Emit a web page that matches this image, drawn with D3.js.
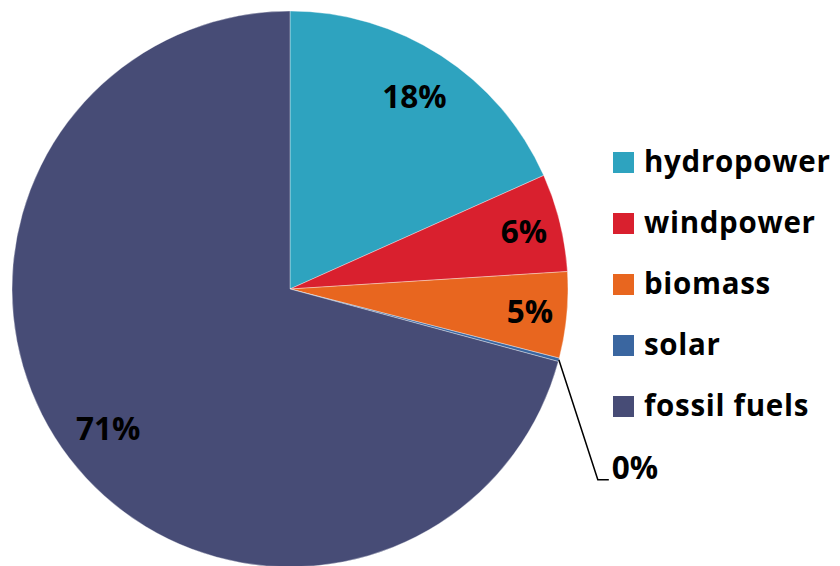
<!DOCTYPE html>
<html>
<head>
<meta charset="utf-8">
<script src="https://cdn.jsdelivr.net/npm/d3@7"></script>
<style>
  html, body { margin: 0; padding: 0; background: #fff; }
  svg { display: block; }
  text { font-family: "Open Sans", Lato, sans-serif; font-weight: bold; fill: #000; }
</style>
</head>
<body>
<svg id="chart" width="840" height="566"></svg>
<script>
const categories = ["hydropower", "windpower", "biomass", "solar", "fossil fuels"];
const values = [18.3, 5.7, 5.0, 0.2, 70.8];
const colors = ["#2EA3BF", "#D9202E", "#E8661F", "#3A66A0", "#474C76"];

const W = 840, H = 566;
const cx = 290, cy = 289, R = 278;
const svg = d3.select("#chart");

const data = categories.map((c, i) => ({ name: c, value: values[i], color: colors[i] }));
const pie = d3.pie().value(d => d.value).sort(null);
const arcs = pie(data);
const arc = d3.arc().innerRadius(0).outerRadius(R);
// narrow slices get their label a little closer to the rim
const labelRadius = a => (a.endAngle - a.startAngle > 0.5 ? 229 : 241);

const g = svg.append("g").attr("transform", `translate(${cx},${cy})`);
g.selectAll("path.slice").data(arcs).enter().append("path")
  .attr("class", "slice")
  .attr("d", arc)
  .attr("fill", d => d.data.color)
  .attr("stroke", "#fff")
  .attr("stroke-width", 0.6)
  .attr("stroke-opacity", 0.6);

const fmt = v => Math.round(v) + "%";
const labelSize = 31.5;

arcs.forEach(a => {
  if (a.endAngle - a.startAngle < 0.05) {
    const mid = (a.startAngle + a.endAngle) / 2;
    const p0 = [R * Math.sin(mid), -R * Math.cos(mid)];
    const p1 = [p0[0] + 39, p0[1] + 120];
    const p2 = [p1[0] + 11, p1[1]];
    g.append("path")
      .attr("d", d3.line()([p0, p1, p2]))
      .attr("fill", "none").attr("stroke", "#000").attr("stroke-width", 1.5);
    g.append("text")
      .attr("x", p2[0] + 3).attr("y", p2[1] - 1)
      .attr("font-size", labelSize)
      .text(fmt(a.data.value));
  } else {
    const lr = labelRadius(a);
    const c = d3.arc().innerRadius(lr).outerRadius(lr).centroid(a);
    g.append("text")
      .attr("x", c[0]).attr("y", c[1])
      .attr("text-anchor", "middle")
      .attr("dy", "0.36em")
      .attr("font-size", labelSize)
      .text(fmt(a.data.value));
  }
});

// legend
const lg = svg.append("g").attr("transform", "translate(613,152)");
const rowH = 61;
const items = lg.selectAll("g").data(data).enter().append("g")
  .attr("transform", (d, i) => `translate(0,${i * rowH})`);
items.append("rect").attr("width", 21).attr("height", 21).attr("fill", d => d.color);
items.append("text").attr("x", 31).attr("y", 20).attr("font-size", 29.5)
  .attr("letter-spacing", 0.7).text(d => d.name);
</script>
</body>
</html>
